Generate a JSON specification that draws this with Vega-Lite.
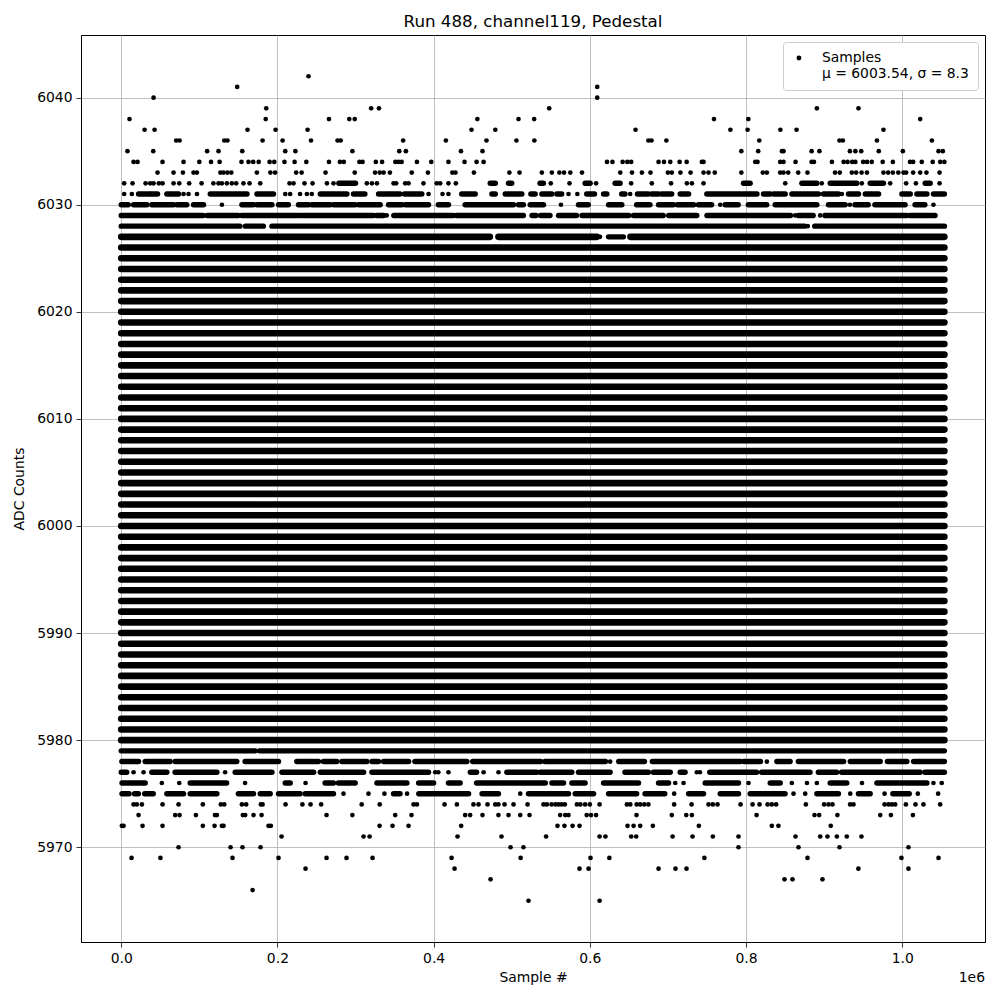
{
"$schema": "https://vega.github.io/schema/vega-lite/v6.json",
"width": 904, "height": 907,
"autosize": {"type": "none"},
"padding": {"left": 81, "top": 35, "right": 15, "bottom": 58},
"background": "white",
"title": {"text": "Run 488, channel119, Pedestal", "fontSize": 16.7, "fontWeight": "normal", "font": "DejaVu Sans", "color": "black", "offset": 4, "anchor": "middle"},
"config": {
  "font": "DejaVu Sans",
  "view": {"stroke": "black", "strokeWidth": 1},
  "axis": {"domainColor": "black", "domainWidth": 0.8, "tickColor": "black", "tickSize": 5, "tickWidth": 0.8, "labelFontSize": 13.9, "labelColor": "black", "labelFont": "DejaVu Sans", "titleFontSize": 13.9, "titleFontWeight": "normal", "titleColor": "black", "titleFont": "DejaVu Sans", "gridColor": "#b0b0b0", "gridWidth": 0.8, "gridOpacity": 1, "labelPadding": 4},
  "legend": {"orient": "top-right", "offset": 7, "fillColor": "white", "strokeColor": "#cccccc", "cornerRadius": 3, "padding": 9, "labelFontSize": 13.9, "labelFont": "DejaVu Sans", "labelColor": "black", "labelLimit": 400, "symbolSize": 24, "symbolType": "circle", "symbolOpacity": 1, "symbolStrokeWidth": 0, "symbolFillColor": "black", "labelOffset": 16}
},
"datasets": {
"bands": [
{"y":5980,"x0":0,"x1":1054000},{"y":5981,"x0":0,"x1":1054000},{"y":5982,"x0":0,"x1":1054000},{"y":5983,"x0":0,"x1":1054000},{"y":5984,"x0":0,"x1":1054000},{"y":5985,"x0":0,"x1":1054000},{"y":5986,"x0":0,"x1":1054000},{"y":5987,"x0":0,"x1":1054000},{"y":5988,"x0":0,"x1":1054000},{"y":5989,"x0":0,"x1":1054000},{"y":5990,"x0":0,"x1":1054000},{"y":5991,"x0":0,"x1":1054000},{"y":5992,"x0":0,"x1":1054000},{"y":5993,"x0":0,"x1":1054000},{"y":5994,"x0":0,"x1":1054000},{"y":5995,"x0":0,"x1":1054000},{"y":5996,"x0":0,"x1":1054000},{"y":5997,"x0":0,"x1":1054000},{"y":5998,"x0":0,"x1":1054000},{"y":5999,"x0":0,"x1":1054000},{"y":6000,"x0":0,"x1":1054000},{"y":6001,"x0":0,"x1":1054000},{"y":6002,"x0":0,"x1":1054000},{"y":6003,"x0":0,"x1":1054000},{"y":6004,"x0":0,"x1":1054000},{"y":6005,"x0":0,"x1":1054000},{"y":6006,"x0":0,"x1":1054000},{"y":6007,"x0":0,"x1":1054000},{"y":6008,"x0":0,"x1":1054000},{"y":6009,"x0":0,"x1":1054000},{"y":6010,"x0":0,"x1":1054000},{"y":6011,"x0":0,"x1":1054000},{"y":6012,"x0":0,"x1":1054000},{"y":6013,"x0":0,"x1":1054000},{"y":6014,"x0":0,"x1":1054000},{"y":6015,"x0":0,"x1":1054000},{"y":6016,"x0":0,"x1":1054000},{"y":6017,"x0":0,"x1":1054000},{"y":6018,"x0":0,"x1":1054000},{"y":6019,"x0":0,"x1":1054000},{"y":6020,"x0":0,"x1":1054000},{"y":6021,"x0":0,"x1":1054000},{"y":6022,"x0":0,"x1":1054000},{"y":6023,"x0":0,"x1":1054000},{"y":6024,"x0":0,"x1":1054000},{"y":6025,"x0":0,"x1":1054000},{"y":6026,"x0":0,"x1":1054000},
{"y":6027,"x0":0,"x1":472000},{"y":6027,"x0":483000,"x1":609000},{"y":6027,"x0":652000,"x1":1054000}
],
"segs": [
{"y":6027,"x0":624000,"x1":643000},
{"y":6028,"x0":0,"x1":152000},{"y":6028,"x0":159000,"x1":182000},{"y":6028,"x0":193000,"x1":875000},{"y":6028,"x0":888000,"x1":1054000},
{"y":6029,"x0":0,"x1":105000},{"y":6029,"x0":110000,"x1":150000},{"y":6029,"x0":154000,"x1":229000},{"y":6029,"x0":231000,"x1":323000},{"y":6029,"x0":327000,"x1":336000},{"y":6029,"x0":349000,"x1":425000},{"y":6029,"x0":429000,"x1":515000},{"y":6029,"x0":526000,"x1":531000},{"y":6029,"x0":537000,"x1":549000},{"y":6029,"x0":560000,"x1":583000},{"y":6029,"x0":590000,"x1":650000},{"y":6029,"x0":656000,"x1":694000},{"y":6029,"x0":701000,"x1":737000},{"y":6029,"x0":750000,"x1":857000},{"y":6029,"x0":867000,"x1":886000},{"y":6029,"x0":901000,"x1":1006000},{"y":6029,"x0":1010000,"x1":1042000},
{"y":6030,"x0":0,"x1":9000},{"y":6030,"x0":15800,"x1":32900},{"y":6030,"x0":39200,"x1":67000},{"y":6030,"x0":71300,"x1":84000},{"y":6030,"x0":92600,"x1":105400},{"y":6030,"x0":154500,"x1":169400},{"y":6030,"x0":173700,"x1":193000},{"y":6030,"x0":201400,"x1":214000},{"y":6030,"x0":227000,"x1":240000},{"y":6030,"x0":244000,"x1":267600},{"y":6030,"x0":271800,"x1":299600},{"y":6030,"x0":303900,"x1":331600},{"y":6030,"x0":342300,"x1":359400},{"y":6030,"x0":363600,"x1":393500},{"y":6030,"x0":406000,"x1":419000},{"y":6030,"x0":440400,"x1":502300},{"y":6030,"x0":508700,"x1":515000},{"y":6030,"x0":523700,"x1":540700},{"y":6030,"x0":585500,"x1":598000},{"y":6030,"x0":624000,"x1":641000},{"y":6030,"x0":660000,"x1":677000},{"y":6030,"x0":688000,"x1":707000},{"y":6030,"x0":712000,"x1":733000},{"y":6030,"x0":739000,"x1":756000},{"y":6030,"x0":773300,"x1":790000},{"y":6030,"x0":803000,"x1":826500},{"y":6030,"x0":837300,"x1":890700},{"y":6030,"x0":905600,"x1":927000},{"y":6030,"x0":939500,"x1":956500},{"y":6030,"x0":965000,"x1":1003700},{"y":6030,"x0":1016400,"x1":1029000},
{"y":6031,"x0":22200,"x1":37000},{"y":6031,"x0":39200,"x1":46500},{"y":6031,"x0":58400,"x1":73400},{"y":6031,"x0":114000,"x1":161000},{"y":6031,"x0":173700,"x1":195000},{"y":6031,"x0":254900,"x1":289000},{"y":6031,"x0":297400,"x1":312000},{"y":6031,"x0":329500,"x1":357000},{"y":6031,"x0":362700,"x1":384900},{"y":6031,"x0":436000,"x1":453300},{"y":6031,"x0":474600,"x1":479000},{"y":6031,"x0":491700,"x1":513000},{"y":6031,"x0":524500,"x1":530000},{"y":6031,"x0":538600,"x1":551400},{"y":6031,"x0":557800,"x1":564000},{"y":6031,"x0":596000,"x1":606000},{"y":6031,"x0":617600,"x1":621800},{"y":6031,"x0":640800,"x1":645000},{"y":6031,"x0":661000,"x1":675000},{"y":6031,"x0":679400,"x1":688000},{"y":6031,"x0":692000,"x1":704800},{"y":6031,"x0":715700,"x1":726500},{"y":6031,"x0":749800,"x1":803200},{"y":6031,"x0":805300,"x1":814000},{"y":6031,"x0":822400,"x1":831000},{"y":6031,"x0":835300,"x1":850200},{"y":6031,"x0":858700,"x1":892800},{"y":6031,"x0":899200,"x1":918400},{"y":6031,"x0":931200,"x1":944000},{"y":6031,"x0":952700,"x1":969800},{"y":6031,"x0":999600,"x1":1010300},{"y":6031,"x0":1018800,"x1":1031600},{"y":6031,"x0":1040000,"x1":1054000},
{"y":6032,"x0":278700,"x1":300000},{"y":6032,"x0":472500,"x1":479000},{"y":6032,"x0":495900,"x1":500000},{"y":6032,"x0":536300,"x1":540600},{"y":6032,"x0":594000,"x1":600400},{"y":6032,"x0":632400,"x1":638800},{"y":6032,"x0":796800,"x1":805300},{"y":6032,"x0":871500,"x1":890700},{"y":6032,"x0":907800,"x1":941900},{"y":6032,"x0":959000,"x1":976000},{"y":6032,"x0":1029400,"x1":1035800},
{"y":5979,"x0":0,"x1":39000},{"y":5979,"x0":41400,"x1":62700},{"y":5979,"x0":65000,"x1":137600},{"y":5979,"x0":139700,"x1":171600},{"y":5979,"x0":177000,"x1":1054000},
{"y":5978,"x0":800,"x1":22200},{"y":5978,"x0":30700,"x1":62700},{"y":5978,"x0":69000,"x1":148000},{"y":5978,"x0":158600,"x1":201400},{"y":5978,"x0":224800,"x1":252600},{"y":5978,"x0":259000,"x1":276000},{"y":5978,"x0":282500,"x1":314500},{"y":5978,"x0":321000,"x1":329500},{"y":5978,"x0":336000,"x1":368000},{"y":5978,"x0":376000,"x1":442600},{"y":5978,"x0":450000,"x1":537000},{"y":5978,"x0":542500,"x1":620000},{"y":5978,"x0":637000,"x1":670000},{"y":5978,"x0":680000,"x1":792600},{"y":5978,"x0":797000,"x1":818500},{"y":5978,"x0":839500,"x1":856500},{"y":5978,"x0":867000,"x1":925000},{"y":5978,"x0":933500,"x1":971900},{"y":5978,"x0":981000,"x1":1006000},{"y":5978,"x0":1014600,"x1":1054000},
{"y":5977,"x0":0,"x1":7000},{"y":5977,"x0":39200,"x1":58400},{"y":5977,"x0":69000,"x1":122500},{"y":5977,"x0":145900,"x1":193000},{"y":5977,"x0":205800,"x1":246400},{"y":5977,"x0":254900,"x1":310400},{"y":5977,"x0":321000,"x1":393500},{"y":5977,"x0":447000,"x1":455000},{"y":5977,"x0":493800,"x1":532000},{"y":5977,"x0":536300,"x1":577000},{"y":5977,"x0":585500,"x1":626000},{"y":5977,"x0":645000,"x1":675000},{"y":5977,"x0":681400,"x1":703000},{"y":5977,"x0":715700,"x1":722000},{"y":5977,"x0":753600,"x1":813500},{"y":5977,"x0":820000,"x1":882000},{"y":5977,"x0":892600,"x1":916000},{"y":5977,"x0":922400,"x1":1022900},{"y":5977,"x0":1029000,"x1":1054000},
{"y":5976,"x0":1000,"x1":30700},{"y":5976,"x0":88300,"x1":135000},{"y":5976,"x0":210000,"x1":216400},{"y":5976,"x0":261000,"x1":271800},{"y":5976,"x0":278000,"x1":299600},{"y":5976,"x0":327400,"x1":365800},{"y":5976,"x0":380800,"x1":400000},{"y":5976,"x0":419000,"x1":434000},{"y":5976,"x0":455000,"x1":543000},{"y":5976,"x0":551400,"x1":566400},{"y":5976,"x0":577000,"x1":594000},{"y":5976,"x0":617600,"x1":662400},{"y":5976,"x0":688000,"x1":700800},{"y":5976,"x0":747700,"x1":790400},{"y":5976,"x0":831000,"x1":843800},{"y":5976,"x0":907800,"x1":929000},{"y":5976,"x0":967600,"x1":1031600},
{"y":5975,"x0":1000,"x1":10000},{"y":5975,"x0":17000,"x1":22000},{"y":5975,"x0":30000,"x1":41000},{"y":5975,"x0":58400,"x1":79800},{"y":5975,"x0":88300,"x1":122500},{"y":5975,"x0":150000,"x1":169400},{"y":5975,"x0":178000,"x1":190800},{"y":5975,"x0":201400,"x1":229000},{"y":5975,"x0":235500,"x1":271800},{"y":5975,"x0":348700,"x1":357000},{"y":5975,"x0":381000,"x1":444800},{"y":5975,"x0":462000,"x1":483000},{"y":5975,"x0":521500,"x1":572700},{"y":5975,"x0":581300,"x1":604800},{"y":5975,"x0":624000,"x1":660000},{"y":5975,"x0":670700,"x1":696000},{"y":5975,"x0":726500,"x1":745600},{"y":5975,"x0":767000,"x1":790400},{"y":5975,"x0":805300,"x1":850000},{"y":5975,"x0":890700,"x1":918400},{"y":5975,"x0":944000,"x1":959000},{"y":5975,"x0":988000,"x1":1009000}
],
"pts": [
{"x":239800,"y":6042},
{"x":148500,"y":6041},{"x":609500,"y":6041},
{"x":41400,"y":6040},{"x":609500,"y":6040},
{"x":185700,"y":6039},{"x":320000,"y":6039},{"x":330000,"y":6039},{"x":548000,"y":6039},{"x":890700,"y":6039},{"x":944000,"y":6039},
{"x":10600,"y":6038},{"x":185000,"y":6038},{"x":266000,"y":6038},{"x":292000,"y":6038},{"x":299000,"y":6038},{"x":456000,"y":6038},{"x":508700,"y":6038},{"x":528800,"y":6038},{"x":759000,"y":6038},{"x":803000,"y":6038},{"x":1023000,"y":6038},
{"x":29900,"y":6037},{"x":42700,"y":6037},{"x":161700,"y":6037},{"x":197600,"y":6037},{"x":238600,"y":6037},{"x":448500,"y":6037},{"x":479000,"y":6037},{"x":658500,"y":6037},{"x":780000,"y":6037},{"x":802000,"y":6037},{"x":844000,"y":6037},{"x":864700,"y":6037},{"x":976000,"y":6037},
{"x":70400,"y":6036},{"x":74700,"y":6036},{"x":132000,"y":6036},{"x":136000,"y":6036},{"x":181000,"y":6036},{"x":206600,"y":6036},{"x":243000,"y":6036},{"x":277000,"y":6036},{"x":281000,"y":6036},{"x":361000,"y":6036},{"x":415700,"y":6036},{"x":467700,"y":6036},{"x":506000,"y":6036},{"x":529000,"y":6036},{"x":675000,"y":6036},{"x":679000,"y":6036},{"x":698000,"y":6036},{"x":817000,"y":6036},{"x":919700,"y":6036},{"x":924000,"y":6036},{"x":967600,"y":6036},{"x":1038000,"y":6036},
{"x":8000,"y":6035},{"x":41000,"y":6035},{"x":110000,"y":6035},{"x":124600,"y":6035},{"x":155000,"y":6035},{"x":210000,"y":6035},{"x":223000,"y":6035},{"x":296000,"y":6035},{"x":356000,"y":6035},{"x":364500,"y":6035},{"x":435000,"y":6035},{"x":462600,"y":6035},{"x":794000,"y":6035},{"x":815600,"y":6035},{"x":846000,"y":6035},{"x":848000,"y":6035},{"x":884000,"y":6035},{"x":894000,"y":6035},{"x":933000,"y":6035},{"x":940000,"y":6035},{"x":947500,"y":6035},{"x":970000,"y":6035},{"x":1000800,"y":6035},{"x":1046500,"y":6035},{"x":1052000,"y":6035},
{"x":15800,"y":6034},{"x":20900,"y":6034},{"x":52900,"y":6034},{"x":79800,"y":6034},{"x":100000,"y":6034},{"x":115000,"y":6034},{"x":126000,"y":6034},{"x":154000,"y":6034},{"x":163000,"y":6034},{"x":169000,"y":6034},{"x":176000,"y":6034},{"x":190000,"y":6034},{"x":196000,"y":6034},{"x":209000,"y":6034},{"x":222000,"y":6034},{"x":237000,"y":6034},{"x":266000,"y":6034},{"x":280000,"y":6034},{"x":285000,"y":6034},{"x":305000,"y":6034},{"x":309000,"y":6034},{"x":326000,"y":6034},{"x":334000,"y":6034},{"x":351000,"y":6034},{"x":355000,"y":6034},{"x":359000,"y":6034},{"x":378600,"y":6034},{"x":397000,"y":6034},{"x":419000,"y":6034},{"x":439600,"y":6034},{"x":455000,"y":6034},{"x":464000,"y":6034},{"x":622000,"y":6034},{"x":629000,"y":6034},{"x":642000,"y":6034},{"x":648000,"y":6034},{"x":653000,"y":6034},{"x":688000,"y":6034},{"x":695000,"y":6034},{"x":703000,"y":6034},{"x":715000,"y":6034},{"x":724000,"y":6034},{"x":743500,"y":6034},{"x":745600,"y":6034},{"x":811800,"y":6034},{"x":814700,"y":6034},{"x":843800,"y":6034},{"x":848000,"y":6034},{"x":863400,"y":6034},{"x":884000,"y":6034},{"x":887000,"y":6034},{"x":910000,"y":6034},{"x":925000,"y":6034},{"x":930000,"y":6034},{"x":936000,"y":6034},{"x":940000,"y":6034},{"x":950000,"y":6034},{"x":955000,"y":6034},{"x":961000,"y":6034},{"x":975000,"y":6034},{"x":988000,"y":6034},{"x":1010000,"y":6034},{"x":1014000,"y":6034},{"x":1025000,"y":6034},{"x":1039000,"y":6034},{"x":1048700,"y":6034},{"x":1054000,"y":6034},
{"x":46500,"y":6033},{"x":67000,"y":6033},{"x":79000,"y":6033},{"x":92600,"y":6033},{"x":96900,"y":6033},{"x":127000,"y":6033},{"x":131000,"y":6033},{"x":136000,"y":6033},{"x":141000,"y":6033},{"x":173700,"y":6033},{"x":191000,"y":6033},{"x":197000,"y":6033},{"x":224000,"y":6033},{"x":231000,"y":6033},{"x":261600,"y":6033},{"x":299000,"y":6033},{"x":325000,"y":6033},{"x":331000,"y":6033},{"x":336000,"y":6033},{"x":344000,"y":6033},{"x":372000,"y":6033},{"x":392700,"y":6033},{"x":424000,"y":6033},{"x":428000,"y":6033},{"x":451600,"y":6033},{"x":497000,"y":6033},{"x":510000,"y":6033},{"x":538600,"y":6033},{"x":551400,"y":6033},{"x":561000,"y":6033},{"x":567000,"y":6033},{"x":575000,"y":6033},{"x":590000,"y":6033},{"x":639000,"y":6033},{"x":654000,"y":6033},{"x":666700,"y":6033},{"x":677700,"y":6033},{"x":700000,"y":6033},{"x":705000,"y":6033},{"x":716000,"y":6033},{"x":729000,"y":6033},{"x":745600,"y":6033},{"x":752000,"y":6033},{"x":760000,"y":6033},{"x":794000,"y":6033},{"x":821500,"y":6033},{"x":826700,"y":6033},{"x":843800,"y":6033},{"x":848000,"y":6033},{"x":854000,"y":6033},{"x":866800,"y":6033},{"x":878700,"y":6033},{"x":914000,"y":6033},{"x":920000,"y":6033},{"x":935500,"y":6033},{"x":941000,"y":6033},{"x":948000,"y":6033},{"x":954800,"y":6033},{"x":976000,"y":6033},{"x":982000,"y":6033},{"x":988000,"y":6033},{"x":995000,"y":6033},{"x":1001700,"y":6033},{"x":1005000,"y":6033},{"x":1014000,"y":6033},{"x":1023000,"y":6033},{"x":1031000,"y":6033},{"x":1047800,"y":6033},
{"x":3800,"y":6032},{"x":14500,"y":6032},{"x":31200,"y":6032},{"x":37100,"y":6032},{"x":41400,"y":6032},{"x":48200,"y":6032},{"x":52900,"y":6032},{"x":67000,"y":6032},{"x":74300,"y":6032},{"x":87000,"y":6032},{"x":102900,"y":6032},{"x":118000,"y":6032},{"x":124600,"y":6032},{"x":128900,"y":6032},{"x":135300,"y":6032},{"x":141600,"y":6032},{"x":147200,"y":6032},{"x":156500,"y":6032},{"x":164300,"y":6032},{"x":178000,"y":6032},{"x":215500,"y":6032},{"x":220600,"y":6032},{"x":234700,"y":6032},{"x":245000,"y":6032},{"x":263400,"y":6032},{"x":271800,"y":6032},{"x":314500,"y":6032},{"x":321000,"y":6032},{"x":327400,"y":6032},{"x":348700,"y":6032},{"x":352000,"y":6032},{"x":363600,"y":6032},{"x":367900,"y":6032},{"x":387000,"y":6032},{"x":404000,"y":6032},{"x":408400,"y":6032},{"x":419000,"y":6032},{"x":428500,"y":6032},{"x":550000,"y":6032},{"x":574000,"y":6032},{"x":608000,"y":6032},{"x":652900,"y":6032},{"x":679400,"y":6032},{"x":704000,"y":6032},{"x":724300,"y":6032},{"x":730700,"y":6032},{"x":745600,"y":6032},{"x":850200,"y":6032},{"x":897000,"y":6032},{"x":948300,"y":6032},{"x":984600,"y":6032},{"x":1005000,"y":6032},{"x":1017500,"y":6032},{"x":1047800,"y":6032},
{"x":3800,"y":6031},{"x":13600,"y":6031},{"x":79800,"y":6031},{"x":86200,"y":6031},{"x":97000,"y":6031},{"x":210000,"y":6031},{"x":216300,"y":6031},{"x":229000,"y":6031},{"x":237700,"y":6031},{"x":244000,"y":6031},{"x":393500,"y":6031},{"x":411400,"y":6031},{"x":419000,"y":6031},{"x":572700,"y":6031},{"x":584000,"y":6031},{"x":651700,"y":6031},{"x":922700,"y":6031},
{"x":128900,"y":6030},{"x":563000,"y":6030},{"x":767000,"y":6030},{"x":933000,"y":6030},{"x":1040000,"y":6030},
{"x":340000,"y":6029},{"x":863000,"y":6029},{"x":895000,"y":6029},
{"x":879000,"y":6028},{"x":613000,"y":6027},
{"x":626000,"y":5978},{"x":826700,"y":5978},
{"x":15800,"y":5977},{"x":28600,"y":5977},{"x":133000,"y":5977},{"x":402000,"y":5977},{"x":406000,"y":5977},{"x":419000,"y":5977},{"x":464000,"y":5977},{"x":483100,"y":5977},{"x":737000,"y":5977},{"x":741000,"y":5977},
{"x":52000,"y":5976},{"x":74300,"y":5976},{"x":158600,"y":5976},{"x":236000,"y":5976},{"x":709400,"y":5976},{"x":720000,"y":5976},{"x":803200,"y":5976},{"x":858700,"y":5976},{"x":878000,"y":5976},{"x":890700,"y":5976},{"x":948500,"y":5976},{"x":1040000,"y":5976},{"x":1050600,"y":5976},
{"x":284600,"y":5975},{"x":316600,"y":5975},{"x":337000,"y":5975},{"x":366000,"y":5975},{"x":510900,"y":5975},{"x":708000,"y":5975},{"x":860800,"y":5975},{"x":875800,"y":5975},{"x":933500,"y":5975},{"x":977400,"y":5975},{"x":1020000,"y":5975},{"x":1046000,"y":5975},
{"x":15800,"y":5974},{"x":20000,"y":5974},{"x":26500,"y":5974},{"x":52900,"y":5974},{"x":73400,"y":5974},{"x":104500,"y":5974},{"x":127600,"y":5974},{"x":131900,"y":5974},{"x":154500,"y":5974},{"x":160000,"y":5974},{"x":178800,"y":5974},{"x":181000,"y":5974},{"x":210400,"y":5974},{"x":232000,"y":5974},{"x":242400,"y":5974},{"x":256000,"y":5974},{"x":307900,"y":5974},{"x":331000,"y":5974},{"x":374300,"y":5974},{"x":378600,"y":5974},{"x":414000,"y":5974},{"x":429800,"y":5974},{"x":451000,"y":5974},{"x":457500,"y":5974},{"x":469000,"y":5974},{"x":478900,"y":5974},{"x":483000,"y":5974},{"x":490800,"y":5974},{"x":502300,"y":5974},{"x":520300,"y":5974},{"x":540700,"y":5974},{"x":545000,"y":5974},{"x":551000,"y":5974},{"x":556000,"y":5974},{"x":560000,"y":5974},{"x":564000,"y":5974},{"x":568000,"y":5974},{"x":583500,"y":5974},{"x":588000,"y":5974},{"x":594000,"y":5974},{"x":600000,"y":5974},{"x":612500,"y":5974},{"x":647500,"y":5974},{"x":651800,"y":5974},{"x":660000,"y":5974},{"x":664500,"y":5974},{"x":669700,"y":5974},{"x":675000,"y":5974},{"x":708000,"y":5974},{"x":730300,"y":5974},{"x":752000,"y":5974},{"x":757500,"y":5974},{"x":763500,"y":5974},{"x":793000,"y":5974},{"x":808400,"y":5974},{"x":817300,"y":5974},{"x":827600,"y":5974},{"x":833000,"y":5974},{"x":838600,"y":5974},{"x":876600,"y":5974},{"x":900000,"y":5974},{"x":905600,"y":5974},{"x":910700,"y":5974},{"x":933300,"y":5974},{"x":937600,"y":5974},{"x":977400,"y":5974},{"x":982500,"y":5974},{"x":986800,"y":5974},{"x":991000,"y":5974},{"x":1004700,"y":5974},{"x":1017000,"y":5974},{"x":1027200,"y":5974},{"x":1048600,"y":5974},
{"x":22200,"y":5973},{"x":69100,"y":5973},{"x":74700,"y":5973},{"x":95600,"y":5973},{"x":120000,"y":5973},{"x":122500,"y":5973},{"x":155700,"y":5973},{"x":158800,"y":5973},{"x":169400,"y":5973},{"x":179700,"y":5973},{"x":262900,"y":5973},{"x":296000,"y":5973},{"x":350800,"y":5973},{"x":371700,"y":5973},{"x":440400,"y":5973},{"x":446800,"y":5973},{"x":462600,"y":5973},{"x":483000,"y":5973},{"x":495900,"y":5973},{"x":510900,"y":5973},{"x":522800,"y":5973},{"x":562000,"y":5973},{"x":568500,"y":5973},{"x":572700,"y":5973},{"x":596000,"y":5973},{"x":601600,"y":5973},{"x":608000,"y":5973},{"x":659800,"y":5973},{"x":705000,"y":5973},{"x":723500,"y":5973},{"x":730700,"y":5973},{"x":813500,"y":5973},{"x":887700,"y":5973},{"x":893700,"y":5973},{"x":917000,"y":5973},{"x":971900,"y":5973},{"x":985500,"y":5973},{"x":1013700,"y":5973},
{"x":800,"y":5972},{"x":3000,"y":5972},{"x":27300,"y":5972},{"x":52900,"y":5972},{"x":104500,"y":5972},{"x":119500,"y":5972},{"x":128900,"y":5972},{"x":131000,"y":5972},{"x":188600,"y":5972},{"x":191600,"y":5972},{"x":330800,"y":5972},{"x":347400,"y":5972},{"x":367900,"y":5972},{"x":435300,"y":5972},{"x":558600,"y":5972},{"x":567500,"y":5972},{"x":577900,"y":5972},{"x":586800,"y":5972},{"x":648300,"y":5972},{"x":656000,"y":5972},{"x":664500,"y":5972},{"x":680700,"y":5972},{"x":739600,"y":5972},{"x":833000,"y":5972},{"x":841500,"y":5972},{"x":908500,"y":5972},
{"x":205300,"y":5971},{"x":310300,"y":5971},{"x":318000,"y":5971},{"x":430600,"y":5971},{"x":486900,"y":5971},{"x":544000,"y":5971},{"x":612500,"y":5971},{"x":620000,"y":5971},{"x":653000,"y":5971},{"x":659400,"y":5971},{"x":706000,"y":5971},{"x":731500,"y":5971},{"x":757500,"y":5971},{"x":790400,"y":5971},{"x":863400,"y":5971},{"x":895000,"y":5971},{"x":904300,"y":5971},{"x":916300,"y":5971},{"x":929000,"y":5971},{"x":947800,"y":5971},
{"x":73400,"y":5970},{"x":140000,"y":5970},{"x":155300,"y":5970},{"x":178400,"y":5970},{"x":498500,"y":5970},{"x":515000,"y":5970},{"x":790400,"y":5970},{"x":867200,"y":5970},{"x":919700,"y":5970},{"x":1008000,"y":5970},
{"x":13200,"y":5969},{"x":50200,"y":5969},{"x":142500,"y":5969},{"x":201400,"y":5969},{"x":262900,"y":5969},{"x":288500,"y":5969},{"x":321800,"y":5969},{"x":423000,"y":5969},{"x":511400,"y":5969},{"x":600900,"y":5969},{"x":625000,"y":5969},{"x":746700,"y":5969},{"x":878700,"y":5969},{"x":999000,"y":5969},{"x":1046500,"y":5969},
{"x":236000,"y":5968},{"x":426800,"y":5968},{"x":586800,"y":5968},{"x":598400,"y":5968},{"x":688000,"y":5968},{"x":709700,"y":5968},{"x":723800,"y":5968},{"x":943900,"y":5968},{"x":1008000,"y":5968},
{"x":472900,"y":5967},{"x":849300,"y":5967},{"x":859500,"y":5967},{"x":897900,"y":5967},
{"x":168200,"y":5966},
{"x":521500,"y":5965},{"x":612500,"y":5965}
]
},
"layer": [
{
  "data": {"name": "bands"},
  "mark": {"type": "rule", "color": "black", "strokeWidth": 6.6, "strokeCap": "round"},
  "encoding": {
    "x": {"field": "x0", "type": "quantitative", "scale": {"domain": [-51500, 1106000], "nice": false, "zero": false},
      "axis": {"values": [0, 200000, 400000, 600000, 800000, 1000000], "labelExpr": "format(datum.value / 1000000, '.1f')", "title": "Sample #", "grid": true, "titlePadding": 6}},
    "x2": {"field": "x1"},
    "y": {"field": "y", "type": "quantitative", "scale": {"domain": [5961.15, 6045.85], "nice": false, "zero": false},
      "axis": {"values": [5970, 5980, 5990, 6000, 6010, 6020, 6030, 6040], "format": "d", "title": "ADC Counts", "grid": true, "titlePadding": 10}}
  }
},
{
  "data": {"name": "segs"},
  "mark": {"type": "rule", "color": "black", "strokeWidth": 5.4, "strokeCap": "round"},
  "encoding": {
    "x": {"field": "x0", "type": "quantitative"},
    "x2": {"field": "x1"},
    "y": {"field": "y", "type": "quantitative"}
  }
},
{
  "data": {"name": "pts"},
  "mark": {"type": "circle", "size": 22, "opacity": 1},
  "encoding": {
    "x": {"field": "x", "type": "quantitative"},
    "y": {"field": "y", "type": "quantitative"},
    "color": {"datum": "Samples", "type": "nominal", "scale": {"range": ["black"]},
      "legend": {"title": null, "labelExpr": "['Samples', 'μ = 6003.54, σ = 8.3']"}}
  }
},
{
  "data": {"values": [{}]},
  "mark": {"type": "text", "align": "right", "baseline": "middle", "fontSize": 13.9, "color": "black", "font": "DejaVu Sans"},
  "encoding": {
    "x": {"datum": 1106000, "type": "quantitative"},
    "y": {"datum": 5957.8, "type": "quantitative"},
    "text": {"value": "1e6"}
  }
}
]
}
